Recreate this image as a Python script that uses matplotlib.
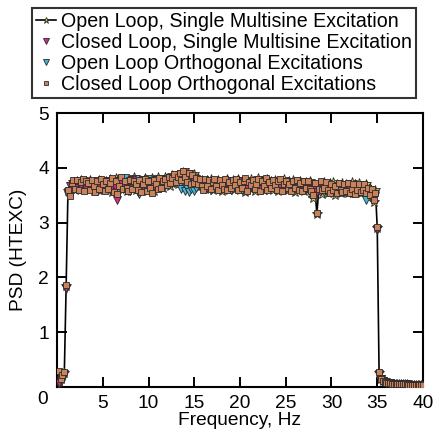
import numpy as np
import matplotlib
matplotlib.use("Agg")
import matplotlib.pyplot as plt

plt.rcParams['font.family'] = ['Liberation Sans', 'DejaVu Sans']

# frequency grid (Hz)
freq = np.linspace(0.2, 40.0, 200)

tail = [0.14, 0.11, 0.09, 0.08, 0.07, 0.07, 0.06, 0.06, 0.06, 0.05, 0.05, 0.05,
        0.05, 0.05, 0.05, 0.04, 0.04, 0.04, 0.04, 0.04, 0.04, 0.04, 0.04, 0.04]

open_single = [0.10, 0.14, 0.20, 0.26, 1.85, 3.58,
    3.56, 3.70, 3.74, 3.60, 3.76, 3.66, 3.78, 3.62, 3.72, 3.76,
    3.64, 3.78, 3.70, 3.58, 3.74, 3.66, 3.78, 3.60, 3.72, 3.62,
    3.76, 3.64, 3.80, 3.56, 3.70, 3.82, 3.60, 3.74, 3.64, 3.78,
    3.70, 3.58, 3.80, 3.66, 3.76, 3.84, 3.60, 3.72, 3.78, 3.62,
    3.74, 3.82, 3.60, 3.76, 3.68, 3.82, 3.58, 3.74, 3.84, 3.66,
    3.78, 3.64, 3.84, 3.70, 3.80, 3.66, 3.86, 3.72, 3.82, 3.70,
    3.88, 3.74, 3.92, 3.76, 3.86, 3.70, 3.84, 3.72, 3.88, 3.66,
    3.82, 3.66, 3.78, 3.70, 3.62, 3.78, 3.66, 3.80, 3.60, 3.74,
    3.64, 3.78, 3.68, 3.58, 3.76, 3.64, 3.80, 3.60, 3.70, 3.78,
    3.62, 3.74, 3.80, 3.60, 3.70, 3.78, 3.56, 3.72, 3.64, 3.80,
    3.68, 3.58, 3.74, 3.82, 3.64, 3.76, 3.60, 3.70, 3.80, 3.66,
    3.76, 3.60, 3.78, 3.68, 3.58, 3.76, 3.64, 3.80, 3.68, 3.60,
    3.76, 3.64, 3.78, 3.56, 3.72, 3.62, 3.76, 3.66, 3.58, 3.74,
    3.62, 3.76, 3.54, 3.44, 3.60, 3.16, 3.58, 3.72, 3.52, 3.74,
    3.60, 3.54, 3.72, 3.58, 3.74, 3.50, 3.70, 3.58, 3.54, 3.72,
    3.58, 3.70, 3.54, 3.64, 3.74, 3.56, 3.70, 3.58, 3.72, 3.54,
    3.66, 3.56, 3.70, 3.52, 3.64, 3.48, 3.38, 3.60,
    2.90, 0.26] + tail

closed_single = [0.08, 0.12, 0.18, 0.24, 1.80, 3.55,
    3.66, 3.60, 3.70, 3.72, 3.64, 3.74, 3.66, 3.72, 3.76, 3.64,
    3.74, 3.68, 3.62, 3.72, 3.66, 3.76, 3.70, 3.60, 3.76, 3.68,
    3.70, 3.74, 3.60, 3.66, 3.76, 3.64, 3.42, 3.70, 3.74, 3.62,
    3.64, 3.72, 3.74, 3.58, 3.78, 3.68, 3.62, 3.56, 3.74, 3.70,
    3.66, 3.76, 3.70, 3.62, 3.76, 3.72, 3.66, 3.78, 3.68, 3.76,
    3.72, 3.78, 3.68, 3.80, 3.72, 3.82, 3.74, 3.78, 3.82, 3.86,
    3.80, 3.88, 3.82, 3.92, 3.84, 3.88, 3.78, 3.84, 3.76, 3.80,
    3.72, 3.76, 3.68, 3.74, 3.70, 3.64, 3.76, 3.68, 3.72, 3.64,
    3.74, 3.68, 3.62, 3.74, 3.66, 3.74, 3.68, 3.64, 3.76, 3.70,
    3.70, 3.66, 3.74, 3.68, 3.76, 3.64, 3.70, 3.62, 3.74, 3.70,
    3.66, 3.70, 3.76, 3.68, 3.62, 3.70, 3.74, 3.66, 3.70, 3.74,
    3.70, 3.74, 3.66, 3.62, 3.70, 3.66, 3.74, 3.70, 3.62, 3.70,
    3.66, 3.74, 3.62, 3.70, 3.66, 3.70, 3.62, 3.70, 3.74, 3.62,
    3.70, 3.66, 3.58, 3.62, 3.64, 3.56, 3.66, 3.60, 3.66, 3.62,
    3.60, 3.66, 3.56, 3.66, 3.60, 3.64, 3.56, 3.66, 3.60, 3.56,
    3.66, 3.58, 3.64, 3.60, 3.54, 3.66, 3.58, 3.64, 3.58, 3.64,
    3.58, 3.62, 3.56, 3.60, 3.52, 3.56, 3.48, 3.52,
    2.88, 0.24] + tail

open_orth = [0.06, 0.10, 0.16, 0.22, 1.78, 3.50,
    3.58, 3.66, 3.62, 3.72, 3.68, 3.62, 3.72, 3.74, 3.64, 3.70,
    3.64, 3.70, 3.74, 3.66, 3.62, 3.74, 3.66, 3.70, 3.62, 3.74,
    3.66, 3.70, 3.62, 3.74, 3.60, 3.70, 3.48, 3.76, 3.80, 3.70,
    3.82, 3.72, 3.58, 3.76, 3.70, 3.64, 3.80, 3.60, 3.52, 3.76,
    3.78, 3.58, 3.76, 3.80, 3.64, 3.74, 3.70, 3.78, 3.66, 3.72,
    3.70, 3.76, 3.72, 3.78, 3.70, 3.76, 3.80, 3.72, 3.78, 3.74,
    3.70, 3.62, 3.74, 3.58, 3.64, 3.56, 3.62, 3.70, 3.58, 3.64,
    3.72, 3.66, 3.76, 3.70, 3.62, 3.74, 3.66, 3.60, 3.70, 3.64,
    3.70, 3.62, 3.74, 3.66, 3.70, 3.62, 3.74, 3.70, 3.60, 3.70,
    3.74, 3.62, 3.70, 3.66, 3.60, 3.70, 3.66, 3.74, 3.62, 3.70,
    3.62, 3.70, 3.66, 3.74, 3.70, 3.62, 3.70, 3.60, 3.74, 3.66,
    3.66, 3.70, 3.62, 3.74, 3.66, 3.60, 3.70, 3.62, 3.74, 3.66,
    3.62, 3.70, 3.66, 3.62, 3.74, 3.66, 3.60, 3.70, 3.62, 3.70,
    3.66, 3.60, 3.70, 3.58, 3.64, 3.60, 3.66, 3.58, 3.64, 3.56,
    3.64, 3.58, 3.62, 3.66, 3.56, 3.62, 3.58, 3.66, 3.56, 3.62,
    3.56, 3.62, 3.58, 3.54, 3.62, 3.58, 3.54, 3.66, 3.56, 3.60,
    3.54, 3.60, 3.42, 3.58, 3.52, 3.46, 3.44, 3.48,
    2.86, 0.22] + tail

closed_orth = [0.30, 0.14, 0.22, 0.28, 1.86, 3.60,
    3.48, 3.72, 3.78, 3.62, 3.78, 3.60, 3.74, 3.80, 3.58, 3.76,
    3.72, 3.60, 3.78, 3.66, 3.56, 3.76, 3.62, 3.80, 3.70, 3.58,
    3.76, 3.62, 3.72, 3.82, 3.56, 3.76, 3.52, 3.66, 3.84, 3.62,
    3.76, 3.64, 3.58, 3.78, 3.62, 3.76, 3.70, 3.60, 3.78, 3.56,
    3.70, 3.80, 3.58, 3.76, 3.64, 3.54, 3.78, 3.70, 3.62, 3.82,
    3.64, 3.76, 3.80, 3.68, 3.84, 3.72, 3.82, 3.88, 3.74, 3.84,
    3.90, 3.78, 3.94, 3.84, 3.74, 3.90, 3.70, 3.86, 3.72, 3.82,
    3.70, 3.80, 3.66, 3.60, 3.80, 3.66, 3.78, 3.62, 3.74, 3.80,
    3.66, 3.60, 3.78, 3.68, 3.62, 3.80, 3.60, 3.74, 3.64, 3.78,
    3.68, 3.80, 3.60, 3.74, 3.64, 3.76, 3.82, 3.58, 3.74, 3.68,
    3.78, 3.62, 3.70, 3.80, 3.58, 3.76, 3.66, 3.82, 3.60, 3.74,
    3.64, 3.78, 3.68, 3.60, 3.76, 3.80, 3.58, 3.70, 3.76, 3.64,
    3.70, 3.58, 3.76, 3.64, 3.78, 3.60, 3.72, 3.58, 3.76, 3.64,
    3.76, 3.62, 3.58, 3.50, 3.72, 3.17, 3.62, 3.76, 3.60, 3.64,
    3.74, 3.60, 3.54, 3.70, 3.60, 3.66, 3.54, 3.72, 3.60, 3.56,
    3.70, 3.58, 3.72, 3.54, 3.62, 3.70, 3.52, 3.60, 3.70, 3.56,
    3.60, 3.70, 3.54, 3.64, 3.50, 3.62, 3.42, 3.54,
    2.92, 0.28] + tail

labels = ["Open Loop, Single Multisine Excitation",
          "Closed Loop, Single Multisine Excitation",
          "Open Loop Orthogonal Excitations",
          "Closed Loop Orthogonal Excitations"]

x_ticks = [0, 5, 10, 15, 20, 25, 30, 35, 40]
y_ticks = [0, 1, 2, 3, 4, 5]

fig = plt.figure(figsize=(4.35, 4.32), dpi=100)
ax = fig.add_axes([57/435, 1-387/432, (423-57)/435, (387-113)/432])

edge = '#2a2a2a'
h1, = ax.plot(freq, open_single, '-', color='black', lw=1.2, marker='*',
              ms=7, mfc='#d8c860', mec=edge, mew=0.6, zorder=2)
h3, = ax.plot(freq, open_orth, ls='none', marker='v', ms=6,
              mfc='#48b4d4', mec=edge, mew=0.6, zorder=3)
h2, = ax.plot(freq, closed_single, ls='none', marker='v', ms=6,
              mfc='#d42a86', mec=edge, mew=0.6, zorder=4)
h4, = ax.plot(freq, closed_orth, ls='none', marker='s', ms=4.2,
              mfc='#c9825a', mec=edge, mew=0.6, zorder=5)

ax.set_xlim(0, 40)
ax.set_ylim(0, 5)
ax.set_xticks(x_ticks)
ax.set_xticklabels([''] + [str(t) for t in x_ticks[1:]])
ax.set_yticks(y_ticks)
ax.set_yticklabels([''] + [str(t) for t in y_ticks[1:]])
ax.tick_params(direction='in', length=7, width=1.4, top=True, right=True,
               labelsize=13.8)
ax.tick_params(axis='x', pad=5.5)
ax.tick_params(axis='y', pad=6)
for s in ax.spines.values():
    s.set_linewidth(1.5)

fig.text(43/435, 1-399/432, '0', fontsize=13.8, ha='center', va='center')

ax.set_xlabel('Frequency, Hz', fontsize=13.8, labelpad=0)
ax.set_ylabel('PSD (HTEXC)', fontsize=13.8, labelpad=8)

leg = fig.legend([h1, h2, h3, h4], labels, loc='upper left',
                 bbox_to_anchor=(32/435, 1-8/432), borderaxespad=0,
                 fontsize=14.1, frameon=True, fancybox=False,
                 handlelength=1.0, handletextpad=0.3, labelspacing=0.1,
                 borderpad=0.2, edgecolor='black', markerscale=0.7)
leg.get_frame().set_linewidth(1.5)

fig.savefig('out.png', dpi=100)
